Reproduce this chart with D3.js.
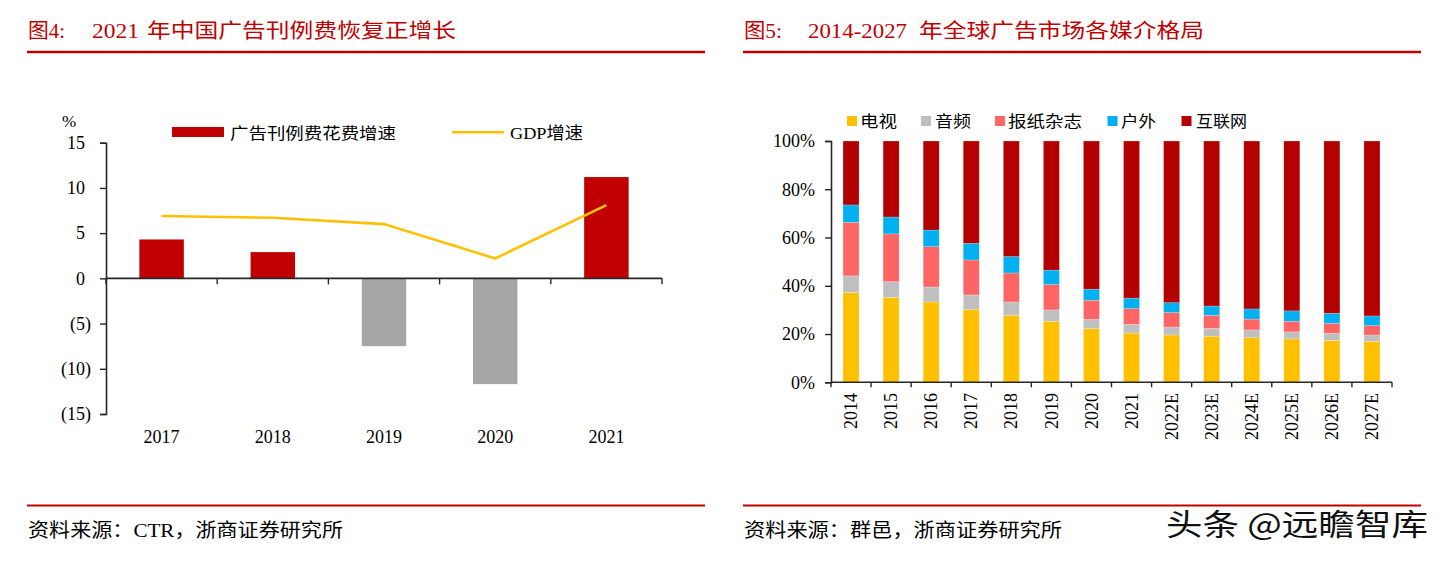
<!DOCTYPE html>
<html><head><meta charset="utf-8">
<script src="https://cdn.jsdelivr.net/npm/d3@7"></script>
<style>
html,body{margin:0;padding:0;background:#fff;}
svg{display:block;}
</style></head>
<body>
<svg id="c" width="1448" height="562"></svg>
<script>
// ---------- Data: Figure 4 ----------
const years1 = ["2017","2018","2019","2020","2021"];
const adGrowth = [4.3, 2.9, -7.5, -11.7, 11.2];
const gdpGrowth = [6.9, 6.7, 6.0, 2.2, 8.1];
const yTicks1 = [15, 10, 5, 0, -5, -10, -15];
const legend1 = ["广告刊例费花费增速", "GDP增速"];

// ---------- Data: Figure 5 ----------
const years2 = ["2014","2015","2016","2017","2018","2019","2020","2021","2022E","2023E","2024E","2025E","2026E","2027E"];
const tv       = [37.2, 35.2, 33.3, 30.2, 27.8, 25.3, 22.3, 20.4, 19.6, 19.1, 18.5, 18.0, 17.4, 17.0];
const audio    = [ 6.9,  6.5,  6.2,  6.0,  5.5,  4.7,  3.8,  3.6,  3.3,  3.3,  3.2,  2.9,  2.9,  2.6];
const print    = [22.2, 19.8, 16.7, 14.5, 12.0, 10.5,  7.9,  6.5,  6.0,  5.4,  4.5,  4.4,  4.1,  3.9];
const outdoor  = [ 7.2,  7.0,  6.9,  6.9,  6.8,  6.0,  4.6,  4.4,  4.1,  3.8,  4.2,  4.3,  4.2,  4.0];
const internet = [26.5, 31.5, 36.9, 42.4, 47.9, 53.5, 61.4, 65.1, 67.0, 68.4, 69.6, 70.4, 71.4, 72.5];
const seriesNames2 = ["电视","音频","报纸杂志","户外","互联网"];
const yTicks2 = [0, 0.2, 0.4, 0.6, 0.8, 1.0];

const RED = "#C00000";
const SERIF = "'Liberation Serif','Times New Roman','Noto Sans CJK SC',serif";
const CJK = "'Liberation Serif','Noto Sans CJK SC',sans-serif";
const AXIS = "#262626";

const svg = d3.select("#c");

// ---------- Frame: titles, rules, sources ----------
function frame(x0, x1, titleParts, source, sourceLen) {
  svg.append("line").attr("x1", x0).attr("x2", x1).attr("y1", 52).attr("y2", 52)
     .attr("stroke", RED).attr("stroke-width", 2.5);
  svg.append("line").attr("x1", x0).attr("x2", x1).attr("y1", 505.5).attr("y2", 505.5)
     .attr("stroke", RED).attr("stroke-width", 2.2);
  titleParts.forEach(p => {
    svg.append("text").attr("x", p.x).attr("y", 38).attr("fill", RED)
      .attr("font-family", CJK).attr("font-size", 20)
      .attr("textLength", p.w).attr("lengthAdjust", "spacingAndGlyphs")
      .text(p.t);
  });
  svg.append("text").attr("x", x0 + 1).attr("y", 537).attr("fill", "#000")
    .attr("font-family", CJK).attr("font-size", 19)
    .attr("textLength", sourceLen).attr("lengthAdjust", "spacingAndGlyphs")
    .text(source);
}
frame(27, 705, [
  {t: "图4:", x: 28, w: 37},
  {t: "2021", x: 92, w: 47},
  {t: "年中国广告刊例费恢复正增长", x: 147, w: 309}
], "资料来源：CTR，浙商证券研究所", 315);
frame(743, 1421, [
  {t: "图5:", x: 744, w: 38},
  {t: "2014-2027", x: 808, w: 99},
  {t: "年全球广告市场各媒介格局", x: 919, w: 285}
], "资料来源：群邑，浙商证券研究所", 318);

// ---------- Figure 4 ----------
{
  const x = d3.scaleBand().domain(years1).range([106, 662]).paddingInner(0.6).paddingOuter(0.3);
  const y = d3.scaleLinear().domain([-15, 15]).range([414, 142.7]);
  const g = svg.append("g");

  // bars
  g.selectAll("rect.bar").data(years1).join("rect").attr("class", "bar")
    .attr("x", d => x(d))
    .attr("width", x.bandwidth())
    .attr("y", (d, i) => y(Math.max(0, adGrowth[i])))
    .attr("height", (d, i) => Math.abs(y(adGrowth[i]) - y(0)))
    .attr("fill", (d, i) => adGrowth[i] >= 0 ? RED : "#A6A6A6");

  // y axis
  const ya = d3.axisLeft(y).tickValues(yTicks1).tickSize(6).tickPadding(9)
    .tickFormat(v => v < 0 ? "(" + Math.abs(v) + ")" : String(v));
  const yg = g.append("g").attr("transform", "translate(106,0)").call(ya);
  yg.select(".domain").attr("stroke", AXIS).attr("stroke-width", 1.6);
  yg.selectAll(".tick line").attr("stroke", AXIS).attr("stroke-width", 1.4);
  yg.selectAll(".tick text").attr("font-family", SERIF).attr("font-size", 18).attr("fill", "#000")
    .attr("dx", v => v >= 0 ? -6 : 0);

  // x axis at zero
  const step = x.step();
  const bounds = years1.map(d => x(d) - (step - x.bandwidth()) / 2).concat([662]);
  g.append("line").attr("x1", 106).attr("x2", 662).attr("y1", y(0)).attr("y2", y(0))
    .attr("stroke", AXIS).attr("stroke-width", 1.6);
  g.selectAll("line.xt").data(bounds).join("line").attr("class", "xt")
    .attr("x1", d => d).attr("x2", d => d).attr("y1", y(0)).attr("y2", y(0) + 6)
    .attr("stroke", AXIS).attr("stroke-width", 1.4);
  g.selectAll("text.xl").data(years1).join("text").attr("class", "xl")
    .attr("x", d => x(d) + x.bandwidth() / 2).attr("y", 443)
    .attr("text-anchor", "middle").attr("font-family", SERIF).attr("font-size", 18)
    .text(d => d);

  // GDP line
  const line = d3.line().x((d, i) => x(years1[i]) + x.bandwidth() / 2).y(d => y(d));
  g.append("path").datum(gdpGrowth).attr("d", line).attr("fill", "none")
    .attr("stroke", "#FFC000").attr("stroke-width", 2.6);

  // unit
  g.append("text").attr("x", 62).attr("y", 127).attr("font-family", SERIF).attr("font-size", 17).text("%");

  // legend
  g.append("rect").attr("x", 172).attr("y", 127).attr("width", 52).attr("height", 10).attr("fill", RED);
  g.append("text").attr("x", 230).attr("y", 139).attr("font-family", CJK).attr("font-size", 16)
    .attr("textLength", 166).attr("lengthAdjust", "spacingAndGlyphs").text(legend1[0]);
  g.append("line").attr("x1", 452).attr("x2", 504).attr("y1", 132.3).attr("y2", 132.3)
    .attr("stroke", "#FFC000").attr("stroke-width", 2.6);
  g.append("text").attr("x", 510).attr("y", 139).attr("font-family", CJK).attr("font-size", 17)
    .attr("textLength", 73).attr("lengthAdjust", "spacingAndGlyphs").text(legend1[1]);
}

// ---------- Figure 5 ----------
{
  const colors = ["#FFC000", "#BFBFBF", "#FF6565", "#00B0F0", "#B30000"];
  const keys = ["tv", "audio", "print", "outdoor", "internet"];
  const rows = years2.map((yr, i) => ({
    year: yr, tv: tv[i], audio: audio[i], print: print[i], outdoor: outdoor[i], internet: internet[i]
  }));
  const stacked = d3.stack().keys(keys).offset(d3.stackOffsetExpand)(rows);

  const x = d3.scaleBand().domain(years2).range([831, 1392]).paddingInner(0.6).paddingOuter(0.3);
  const y = d3.scaleLinear().domain([0, 1]).range([382.3, 141]);
  const g = svg.append("g");

  g.selectAll("g.layer").data(stacked).join("g").attr("class", "layer")
    .attr("fill", (d, i) => colors[i])
    .selectAll("rect").data(d => d).join("rect")
    .attr("x", d => x(d.data.year))
    .attr("width", x.bandwidth())
    .attr("y", d => y(d[1]))
    .attr("height", d => y(d[0]) - y(d[1]))
    .attr("stroke", "#ffffff").attr("stroke-opacity", 0.35).attr("stroke-width", 0.6);

  const ya = d3.axisLeft(y).tickValues(yTicks2).tickSize(6).tickPadding(10)
    .tickFormat(d3.format(".0%"));
  const yg = g.append("g").attr("transform", "translate(831,0)").call(ya);
  yg.select(".domain").attr("stroke", AXIS).attr("stroke-width", 1.6);
  yg.selectAll(".tick line").attr("stroke", AXIS).attr("stroke-width", 1.4);
  yg.selectAll(".tick text").attr("font-family", SERIF).attr("font-size", 18).attr("fill", "#000");

  const step = x.step();
  const bounds = years2.map(d => x(d) - (step - x.bandwidth()) / 2).concat([1392]);
  g.append("line").attr("x1", 831).attr("x2", 1392).attr("y1", y(0)).attr("y2", y(0))
    .attr("stroke", AXIS).attr("stroke-width", 1.6);
  g.selectAll("line.xt").data(bounds).join("line").attr("class", "xt")
    .attr("x1", d => d).attr("x2", d => d).attr("y1", y(0)).attr("y2", y(0) + 5)
    .attr("stroke", AXIS).attr("stroke-width", 1.4);
  g.selectAll("text.xl").data(years2).join("text").attr("class", "xl")
    .attr("transform", d => `translate(${x(d) + x.bandwidth() / 2},393) rotate(-90)`)
    .attr("text-anchor", "end").attr("dy", "0.34em")
    .attr("font-family", SERIF).attr("font-size", 18)
    .text(d => d);

  // legend
  const leg = [
    {sx: 847, tx: 860, tw: 37},
    {sx: 921, tx: 935, tw: 36},
    {sx: 995, tx: 1008, tw: 74},
    {sx: 1107.5, tx: 1121, tw: 35},
    {sx: 1181.5, tx: 1196, tw: 51}
  ];
  leg.forEach((L, i) => {
    g.append("rect").attr("x", L.sx).attr("y", 116).attr("width", 10).attr("height", 10).attr("fill", colors[i]);
    g.append("text").attr("x", L.tx).attr("y", 127).attr("font-family", CJK).attr("font-size", 16)
      .attr("textLength", L.tw).attr("lengthAdjust", "spacingAndGlyphs").text(seriesNames2[i]);
  });
}

// ---------- Watermark ----------
svg.append("text").attr("x", 1166).attr("y", 535)
  .attr("font-family", "'Noto Sans CJK SC',sans-serif").attr("font-size", 30)
  .attr("fill", "#111").attr("stroke", "#fff").attr("stroke-width", 2.5).attr("paint-order", "stroke")
  .attr("textLength", 262).attr("lengthAdjust", "spacingAndGlyphs")
  .text("头条 @远瞻智库");
</script>
</body></html>
